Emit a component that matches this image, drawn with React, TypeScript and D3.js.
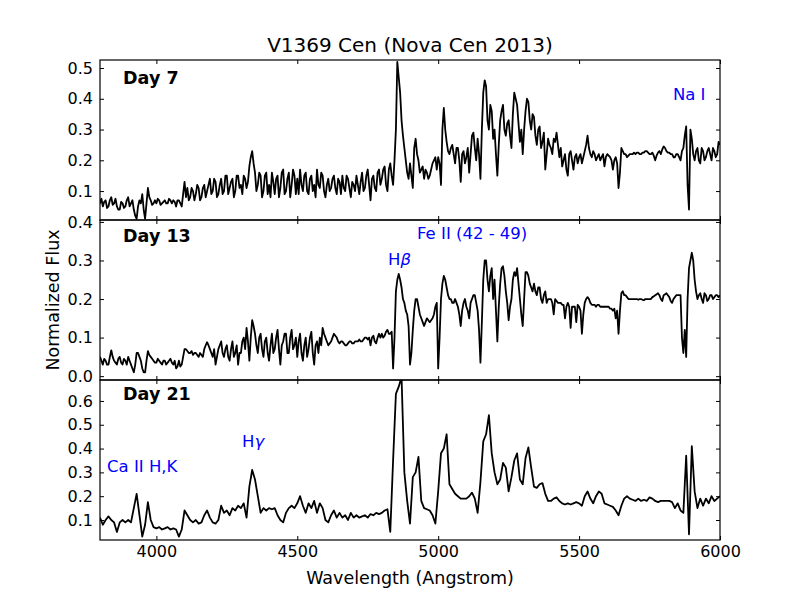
import * as React from 'react';
import * as d3 from 'd3';

// wavelength grids of the spectra (Angstrom): Day 7 and Day 13 every 5 A, Day 21 every 10 A
const fineWavelengths: number[] = d3.range(3800, 6001, 5);
const coarseWavelengths: number[] = d3.range(3800, 6001, 10);

// normalized flux (5 A steps, one row per 100 A)
const day7Flux: number[] = [
	0.06, 0.075, 0.05, 0.065, 0.07, 0.045, 0.05, 0.07, 0.08, 0.055, 0.06, 0.075, 0.05, 0.04, 0.04, 0.065, 0.06, 0.045, 0.05, 0.07,
	0.08, 0.05, 0.06, 0.07, 0.04, 0.02, 0.01, 0.05, 0.07, 0.06, 0.09, 0.04, 0.01, 0.06, 0.11, 0.08, 0.07, 0.055, 0.06, 0.07,
	0.06, 0.075, 0.07, 0.055, 0.06, 0.065, 0.07, 0.06, 0.06, 0.075, 0.07, 0.06, 0.07, 0.065, 0.05, 0.07, 0.07, 0.06, 0.05, 0.09,
	0.13, 0.08, 0.11, 0.07, 0.08, 0.11, 0.1, 0.07, 0.09, 0.12, 0.11, 0.07, 0.08, 0.11, 0.12, 0.08, 0.1, 0.12, 0.14, 0.09,
	0.1, 0.14, 0.13, 0.08, 0.09, 0.12, 0.14, 0.09, 0.1, 0.15, 0.15, 0.09, 0.11, 0.13, 0.14, 0.08, 0.1, 0.15, 0.15, 0.11,
	0.12, 0.09, 0.15, 0.14, 0.11, 0.13, 0.18, 0.21, 0.23, 0.19, 0.16, 0.1, 0.12, 0.16, 0.15, 0.08, 0.1, 0.15, 0.16, 0.09,
	0.12, 0.08, 0.16, 0.13, 0.09, 0.14, 0.15, 0.08, 0.11, 0.16, 0.17, 0.09, 0.1, 0.14, 0.16, 0.08, 0.12, 0.17, 0.15, 0.09,
	0.14, 0.09, 0.17, 0.12, 0.1, 0.15, 0.16, 0.1, 0.09, 0.14, 0.15, 0.1, 0.12, 0.08, 0.17, 0.12, 0.11, 0.16, 0.15, 0.1,
	0.08, 0.12, 0.14, 0.1, 0.11, 0.14, 0.15, 0.11, 0.09, 0.14, 0.13, 0.09, 0.15, 0.11, 0.1, 0.15, 0.14, 0.11, 0.08, 0.13,
	0.12, 0.1, 0.15, 0.12, 0.09, 0.13, 0.16, 0.1, 0.11, 0.15, 0.17, 0.12, 0.07, 0.14, 0.15, 0.11, 0.1, 0.16, 0.17, 0.12,
	0.14, 0.17, 0.18, 0.12, 0.1, 0.17, 0.19, 0.15, 0.12, 0.2, 0.3, 0.52, 0.47, 0.42, 0.33, 0.28, 0.24, 0.2, 0.16, 0.14,
	0.19, 0.15, 0.11, 0.24, 0.27, 0.22, 0.2, 0.16, 0.17, 0.18, 0.14, 0.17, 0.16, 0.14, 0.15, 0.17, 0.19, 0.2, 0.21, 0.17,
	0.21, 0.19, 0.12, 0.3, 0.37, 0.3, 0.26, 0.23, 0.22, 0.24, 0.25, 0.22, 0.19, 0.24, 0.24, 0.2, 0.13, 0.22, 0.23, 0.19,
	0.21, 0.24, 0.16, 0.22, 0.28, 0.29, 0.24, 0.2, 0.27, 0.22, 0.14, 0.3, 0.42, 0.46, 0.44, 0.33, 0.3, 0.38, 0.36, 0.27,
	0.3, 0.22, 0.15, 0.25, 0.33, 0.36, 0.38, 0.3, 0.28, 0.32, 0.33, 0.28, 0.24, 0.35, 0.42, 0.4, 0.38, 0.32, 0.26, 0.3,
	0.22, 0.3, 0.36, 0.4, 0.39, 0.33, 0.3, 0.35, 0.34, 0.28, 0.25, 0.3, 0.31, 0.24, 0.26, 0.29, 0.17, 0.22, 0.27, 0.25,
	0.24, 0.22, 0.27, 0.26, 0.29, 0.25, 0.21, 0.24, 0.18, 0.2, 0.22, 0.17, 0.15, 0.22, 0.23, 0.2, 0.17, 0.21, 0.22, 0.19,
	0.21, 0.22, 0.19, 0.21, 0.23, 0.25, 0.28, 0.24, 0.22, 0.21, 0.23, 0.22, 0.2, 0.21, 0.22, 0.2, 0.21, 0.22, 0.18, 0.21,
	0.22, 0.215, 0.21, 0.2, 0.17, 0.2, 0.21, 0.19, 0.11, 0.16, 0.24, 0.23, 0.22, 0.22, 0.21, 0.215, 0.22, 0.22, 0.22, 0.225,
	0.22, 0.225, 0.225, 0.22, 0.22, 0.225, 0.225, 0.23, 0.23, 0.225, 0.22, 0.22, 0.225, 0.215, 0.2, 0.215, 0.225, 0.23, 0.22, 0.235,
	0.245, 0.24, 0.23, 0.225, 0.225, 0.22, 0.22, 0.21, 0.21, 0.22, 0.22, 0.21, 0.2, 0.23, 0.24, 0.28, 0.31, 0.12, 0.04, 0.3,
	0.27, 0.22, 0.2, 0.23, 0.24, 0.2, 0.19, 0.24, 0.23, 0.2, 0.21, 0.23, 0.24, 0.22, 0.2, 0.24, 0.23, 0.21, 0.22, 0.26,
	0.25,
];

// normalized flux (5 A steps, one row per 100 A)
const day13Flux: number[] = [
	0.05, 0.04, 0.03, 0.045, 0.04, 0.03, 0.03, 0.05, 0.067, 0.05, 0.04, 0.035, 0.03, 0.045, 0.05, 0.035, 0.03, 0.045, 0.04, 0.03,
	0.05, 0.04, 0.03, 0.02, 0.01, 0.03, 0.06, 0.06, 0.05, 0.04, 0.02, 0.01, 0.01, 0.04, 0.065, 0.055, 0.05, 0.045, 0.04, 0.035,
	0.035, 0.045, 0.04, 0.035, 0.03, 0.04, 0.04, 0.03, 0.035, 0.04, 0.045, 0.035, 0.03, 0.04, 0.02, 0.025, 0.04, 0.025, 0.03, 0.05,
	0.07, 0.07, 0.065, 0.06, 0.06, 0.065, 0.055, 0.06, 0.06, 0.055, 0.05, 0.06, 0.055, 0.05, 0.07, 0.08, 0.088, 0.08, 0.07, 0.06,
	0.05, 0.07, 0.03, 0.05, 0.07, 0.08, 0.09, 0.06, 0.05, 0.07, 0.08, 0.05, 0.04, 0.07, 0.09, 0.05, 0.06, 0.08, 0.03, 0.06,
	0.06, 0.09, 0.1, 0.07, 0.125, 0.09, 0.04, 0.1, 0.145, 0.13, 0.11, 0.08, 0.06, 0.1, 0.11, 0.07, 0.05, 0.09, 0.1, 0.06,
	0.04, 0.08, 0.11, 0.06, 0.07, 0.1, 0.12, 0.07, 0.03, 0.08, 0.09, 0.11, 0.11, 0.06, 0.06, 0.1, 0.12, 0.07, 0.08, 0.1,
	0.05, 0.09, 0.11, 0.06, 0.04, 0.08, 0.1, 0.05, 0.07, 0.1, 0.115, 0.06, 0.03, 0.08, 0.09, 0.06, 0.1, 0.08, 0.125, 0.11,
	0.1, 0.09, 0.08, 0.085, 0.09, 0.1, 0.11, 0.105, 0.1, 0.09, 0.085, 0.09, 0.09, 0.085, 0.08, 0.08, 0.085, 0.09, 0.09, 0.085,
	0.085, 0.09, 0.09, 0.09, 0.095, 0.09, 0.09, 0.095, 0.1, 0.1, 0.095, 0.1, 0.08, 0.1, 0.105, 0.09, 0.085, 0.1, 0.11, 0.1,
	0.11, 0.1, 0.105, 0.115, 0.12, 0.11, 0.11, 0.115, 0.02, 0.1, 0.22, 0.25, 0.265, 0.25, 0.23, 0.2, 0.19, 0.17, 0.16, 0.13,
	0.03, 0.06, 0.12, 0.17, 0.2, 0.2, 0.18, 0.16, 0.15, 0.14, 0.13, 0.14, 0.15, 0.145, 0.14, 0.145, 0.15, 0.16, 0.18, 0.19,
	0.02, 0.1, 0.2, 0.24, 0.26, 0.25, 0.23, 0.21, 0.2, 0.2, 0.19, 0.19, 0.2, 0.19, 0.18, 0.16, 0.13, 0.17, 0.19, 0.2,
	0.18, 0.17, 0.15, 0.19, 0.2, 0.21, 0.21, 0.19, 0.17, 0.12, 0.035, 0.14, 0.25, 0.3, 0.3, 0.25, 0.22, 0.26, 0.28, 0.2,
	0.25, 0.17, 0.09, 0.18, 0.24, 0.28, 0.285, 0.26, 0.22, 0.19, 0.145, 0.18, 0.2, 0.25, 0.27, 0.26, 0.28, 0.24, 0.2, 0.16,
	0.13, 0.2, 0.27, 0.27, 0.26, 0.24, 0.23, 0.22, 0.24, 0.22, 0.21, 0.23, 0.23, 0.2, 0.19, 0.21, 0.22, 0.19, 0.2, 0.2,
	0.2, 0.19, 0.16, 0.2, 0.195, 0.19, 0.19, 0.19, 0.185, 0.185, 0.15, 0.18, 0.19, 0.18, 0.125, 0.18, 0.18, 0.18, 0.14, 0.185,
	0.18, 0.17, 0.11, 0.16, 0.19, 0.2, 0.205, 0.2, 0.19, 0.185, 0.185, 0.185, 0.18, 0.185, 0.185, 0.18, 0.18, 0.18, 0.18, 0.18,
	0.18, 0.18, 0.175, 0.175, 0.17, 0.175, 0.15, 0.17, 0.11, 0.17, 0.215, 0.22, 0.21, 0.21, 0.205, 0.2, 0.2, 0.2, 0.2, 0.2,
	0.2, 0.2, 0.198, 0.2, 0.2, 0.198, 0.197, 0.2, 0.2, 0.2, 0.2, 0.2, 0.205, 0.207, 0.21, 0.212, 0.215, 0.21, 0.2, 0.195,
	0.21, 0.212, 0.215, 0.21, 0.205, 0.195, 0.19, 0.2, 0.205, 0.21, 0.21, 0.21, 0.21, 0.1, 0.06, 0.12, 0.05, 0.2, 0.28, 0.3,
	0.32, 0.3, 0.25, 0.22, 0.2, 0.21, 0.215, 0.2, 0.19, 0.215, 0.21, 0.195, 0.2, 0.21, 0.21, 0.2, 0.205, 0.21, 0.21, 0.205,
	0.21,
];

// normalized flux (10 A steps, one row per 100 A)
const day21Flux: number[] = [
	0.11, 0.08, 0.1, 0.115, 0.1, 0.09, 0.05, 0.09, 0.1, 0.09,
	0.1, 0.09, 0.15, 0.21, 0.12, 0.03, 0.08, 0.175, 0.1, 0.07,
	0.065, 0.07, 0.06, 0.065, 0.07, 0.06, 0.065, 0.06, 0.03, 0.06,
	0.14, 0.12, 0.1, 0.09, 0.1, 0.085, 0.09, 0.12, 0.14, 0.11,
	0.09, 0.085, 0.1, 0.16, 0.13, 0.14, 0.12, 0.15, 0.14, 0.16,
	0.15, 0.17, 0.11, 0.24, 0.31, 0.27, 0.2, 0.13, 0.15, 0.14,
	0.15, 0.145, 0.15, 0.12, 0.1, 0.09, 0.13, 0.15, 0.16, 0.15,
	0.17, 0.2, 0.16, 0.13, 0.17, 0.15, 0.18, 0.13, 0.17, 0.15,
	0.1, 0.09, 0.12, 0.14, 0.11, 0.13, 0.11, 0.12, 0.1, 0.13,
	0.11, 0.12, 0.11, 0.115, 0.12, 0.11, 0.125, 0.12, 0.13, 0.125,
	0.13, 0.14, 0.145, 0.05, 0.35, 0.63, 0.66, 0.7, 0.3, 0.18,
	0.085, 0.28, 0.3, 0.365, 0.18, 0.15, 0.145, 0.14, 0.12, 0.085,
	0.22, 0.38, 0.4, 0.46, 0.25, 0.23, 0.21, 0.2, 0.19, 0.19,
	0.19, 0.2, 0.215, 0.19, 0.13, 0.26, 0.43, 0.46, 0.54, 0.38,
	0.3, 0.25, 0.27, 0.34, 0.32, 0.22, 0.28, 0.35, 0.38, 0.27,
	0.25, 0.36, 0.405, 0.32, 0.24, 0.235, 0.25, 0.255, 0.21, 0.18,
	0.18, 0.19, 0.195, 0.18, 0.17, 0.165, 0.17, 0.165, 0.17, 0.175,
	0.17, 0.16, 0.2, 0.22, 0.19, 0.17, 0.2, 0.22, 0.21, 0.17,
	0.165, 0.16, 0.155, 0.14, 0.12, 0.16, 0.19, 0.2, 0.19, 0.185,
	0.18, 0.19, 0.18, 0.185, 0.18, 0.195, 0.19, 0.18, 0.175, 0.18,
	0.18, 0.18, 0.18, 0.175, 0.15, 0.17, 0.14, 0.13, 0.37, 0.04,
	0.41, 0.22, 0.15, 0.19, 0.16, 0.19, 0.17, 0.2, 0.18, 0.19,
	0.2,
];

// axis limits and ticks
const wavelengthDomain: [number, number] = [3800, 6000];
const wavelengthTicks: number[] = [4000, 4500, 5000, 5500, 6000];
const day7Domain: [number, number] = [0.006, 0.526];
const day13Domain: [number, number] = [-0.01, 0.405];
const day21Domain: [number, number] = [0.016, 0.688];
const day7Ticks: number[] = [0.1, 0.2, 0.3, 0.4, 0.5];
const day13Ticks: number[] = [0.0, 0.1, 0.2, 0.3, 0.4];
const day21Ticks: number[] = [0.1, 0.2, 0.3, 0.4, 0.5, 0.6];

// panel titles and where they sit (wavelength, flux)
const dayLabels: string[] = ['Day 7', 'Day 13', 'Day 21'];
const dayLabelWavelength: number = 3882;
const dayLabelFlux: number[] = [0.448, 0.348, 0.604];

// line identifications: panel index, text, greek letter, wavelength, flux
const lineIds: { panel: number; text: string; greek?: string; wavelength: number; flux: number }[] = [
	{ panel: 0, text: 'Na I', wavelength: 5833, flux: 0.395 },
	{ panel: 1, text: 'Fe II (42 - 49)', wavelength: 4925, flux: 0.356 },
	{ panel: 1, text: 'H', greek: 'β', wavelength: 4822, flux: 0.288 },
	{ panel: 2, text: 'Ca II H,K', wavelength: 3825, flux: 0.302 },
	{ panel: 2, text: 'H', greek: 'γ', wavelength: 4304, flux: 0.407 },
];

const FONT = 'DejaVu Sans, sans-serif';

class App extends React.Component<{}, {}> {
	private svgRef = React.createRef<SVGSVGElement>();

	public render() {
		return (
			<svg
				ref={this.svgRef}
				width={800}
				height={600}
				style={{ position: 'absolute', left: 0, top: 0, display: 'block', background: '#fff' }}
			/>
		);
	}

	public componentDidMount() {
		this.drawChart();
	}

	public drawChart(): void {
		const svg = d3.select(this.svgRef.current);
		// clear anything drawn by a previous mount
		svg.selectAll('*').remove();
		svg.append('rect').attr('width', 800).attr('height', 600).attr('fill', '#fff');

		const left = 100;
		const right = 720;
		const top = 60;
		const panelHeight = 160;

		const x = d3.scaleLinear().domain(wavelengthDomain).range([left, right]);
		const fluxes = [day7Flux, day13Flux, day21Flux];
		const grids = [fineWavelengths, fineWavelengths, coarseWavelengths];
		const domains = [day7Domain, day13Domain, day21Domain];
		const ticks = [day7Ticks, day13Ticks, day21Ticks];
		const defs = svg.append('defs');

		fluxes.forEach((flux, i) => {
			const panelTop = top + i * panelHeight;
			const y = d3.scaleLinear().domain(domains[i]).range([panelTop + panelHeight, panelTop]);
			const grid = grids[i];
			const g = svg.append('g').classed('panel', true);

			// clip the spectrum to the axes box
			defs.append('clipPath')
				.attr('id', `clip-panel-${i}`)
				.append('rect')
				.attr('x', left)
				.attr('y', panelTop)
				.attr('width', right - left)
				.attr('height', panelHeight);

			const line = d3
				.line<number>()
				.x((d, j) => x(grid[j]))
				.y((d) => y(d));

			g.append('path')
				.datum(flux)
				.attr('d', line)
				.attr('fill', 'none')
				.attr('stroke', '#000')
				.attr('stroke-width', 1.8)
				.attr('stroke-linejoin', 'round')
				.attr('clip-path', `url(#clip-panel-${i})`);

			this.drawAxes(g, x, y, ticks[i], panelTop, panelHeight, i === 2);

			// frame of the axes
			g.append('rect')
				.attr('x', left)
				.attr('y', panelTop)
				.attr('width', right - left)
				.attr('height', panelHeight)
				.attr('fill', 'none')
				.attr('stroke', '#000')
				.attr('stroke-width', 1.2);

			// bold day label
			g.append('text')
				.attr('x', x(dayLabelWavelength))
				.attr('y', y(dayLabelFlux[i]))
				.attr('font-family', FONT)
				.attr('font-size', 17.5)
				.attr('font-weight', 'bold')
				.text(dayLabels[i]);

			// blue line identifications of this panel
			lineIds
				.filter((d) => d.panel === i)
				.forEach((d) => {
					const t = g
						.append('text')
						.attr('x', x(d.wavelength))
						.attr('y', y(d.flux))
						.attr('font-family', FONT)
						.attr('font-size', 16.5)
						.attr('fill', '#0000ff');
					t.append('tspan').text(d.text);
					if (d.greek) {
						t.append('tspan').attr('font-style', 'italic').text(d.greek);
					}
				});
		});

		// title and axis labels
		svg.append('text')
			.attr('x', (left + right) / 2)
			.attr('y', 52)
			.attr('text-anchor', 'middle')
			.attr('font-family', FONT)
			.attr('font-size', 20)
			.text('V1369 Cen (Nova Cen 2013)');

		svg.append('text')
			.attr('x', (left + right) / 2)
			.attr('y', 584)
			.attr('text-anchor', 'middle')
			.attr('font-family', FONT)
			.attr('font-size', 17.5)
			.text('Wavelength (Angstrom)');

		svg.append('text')
			.attr('transform', `translate(59, ${top + (3 * panelHeight) / 2}) rotate(-90)`)
			.attr('text-anchor', 'middle')
			.attr('font-family', FONT)
			.attr('font-size', 17.5)
			.text('Normalized Flux');
	}

	public drawAxes(
		g: d3.Selection<any, any, any, any>,
		x: d3.ScaleLinear<number, number>,
		y: d3.ScaleLinear<number, number>,
		yTicks: number[],
		panelTop: number,
		panelHeight: number,
		showXLabels: boolean
	): void {
		// ticks point inwards on all four sides, labels only bottom and left
		const none = () => '';
		const bottom = d3
			.axisBottom(x)
			.tickValues(wavelengthTicks)
			.tickSizeInner(-4)
			.tickSizeOuter(0)
			.tickPadding(6)
			.tickFormat(showXLabels ? (d3.format('d') as any) : none);
		const topAxis = d3.axisTop(x).tickValues(wavelengthTicks).tickSizeInner(-4).tickSizeOuter(0).tickFormat(none);
		const leftAxis = d3
			.axisLeft(y)
			.tickValues(yTicks)
			.tickSizeInner(-4)
			.tickSizeOuter(0)
			.tickPadding(7)
			.tickFormat(d3.format('.1f') as any);
		const rightAxis = d3.axisRight(y).tickValues(yTicks).tickSizeInner(-4).tickSizeOuter(0).tickFormat(none);

		const axes = [
			g.append('g').attr('transform', `translate(0, ${panelTop + panelHeight})`).call(bottom),
			g.append('g').attr('transform', `translate(0, ${panelTop})`).call(topAxis),
			g.append('g').attr('transform', `translate(${x.range()[0]}, 0)`).call(leftAxis),
			g.append('g').attr('transform', `translate(${x.range()[1]}, 0)`).call(rightAxis),
		];
		axes.forEach((a) => {
			a.select('.domain').remove();
			a.attr('font-family', FONT).attr('font-size', 16);
			a.selectAll('line').attr('stroke', '#000').attr('stroke-width', 1);
			a.selectAll('text').attr('fill', '#000');
		});
	}
}

export default App;
